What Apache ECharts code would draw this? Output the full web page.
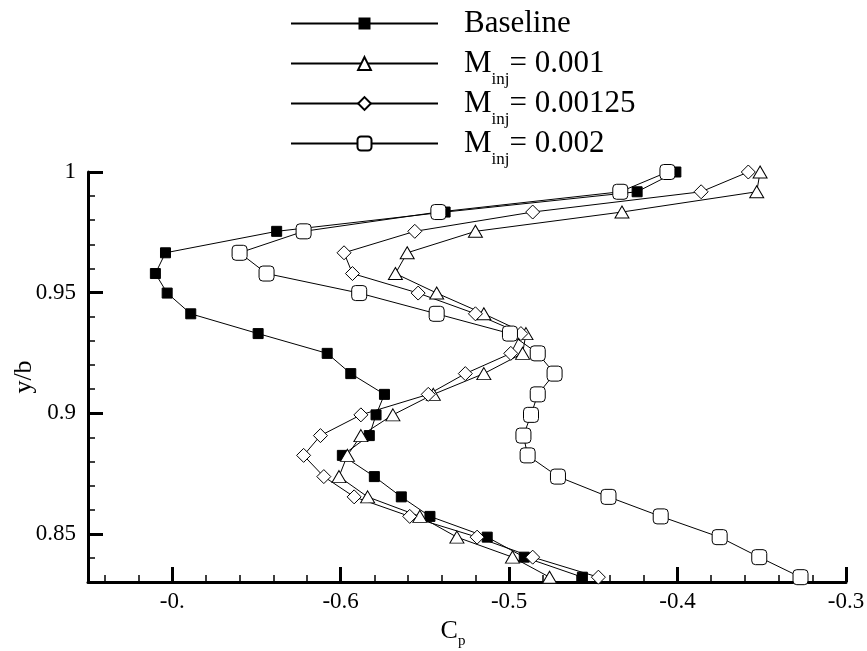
<!DOCTYPE html>
<html>
<head>
<meta charset="utf-8">
<script src="https://cdn.jsdelivr.net/npm/echarts@6/dist/echarts.min.js"></script>
<style>
  html, body { margin: 0; padding: 0; background: #fff; }
  #chart { width: 867px; height: 651px; }
</style>
</head>
<body>
<div id="chart"></div>
<script>
// Spanwise stations (y/b) shared by all four pressure-coefficient profiles
const yb = [1.000, 0.9918, 0.9834, 0.9754, 0.9665, 0.9579, 0.9498, 0.9412, 0.9330, 0.9248,
            0.9164, 0.9078, 0.8993, 0.8907, 0.8825, 0.8737, 0.8653, 0.8572, 0.8486, 0.8403, 0.8320];

// Cp at each station
const cpBaseline = [-0.401, -0.424, -0.538, -0.638, -0.704, -0.710, -0.703, -0.689, -0.649, -0.608,
                    -0.594, -0.574, -0.579, -0.583, -0.599, -0.580, -0.564, -0.547, -0.513, -0.491, -0.4565];
const cpM001     = [-0.351, -0.353, -0.433, -0.520, -0.5605, -0.5675, -0.543, -0.515, -0.490, -0.492,
                    -0.515, -0.545, -0.569, -0.588, -0.596, -0.601, -0.584, -0.553, -0.531, -0.498, -0.476];
const cpM00125   = [-0.358, -0.386, -0.486, -0.556, -0.598, -0.593, -0.554, -0.520, -0.493, -0.499,
                    -0.526, -0.548, -0.588, -0.612, -0.622, -0.610, -0.592, -0.559, -0.519, -0.486, -0.447];
const cpM002     = [-0.406, -0.434, -0.542, -0.622, -0.660, -0.644, -0.589, -0.543, -0.4995, -0.483,
                    -0.473, -0.483, -0.487, -0.4915, -0.489, -0.471, -0.441, -0.410, -0.375, -0.3515, -0.327];

const seriesNames = ['Baseline', 'Minj 0.001', 'Minj 0.00125', 'Minj 0.002'];
const injValues = [null, '0.001', '0.00125', '0.002'];

// Axis ticks and labels
const xMajor = [-0.7, -0.6, -0.5, -0.4, -0.3];
const xLabels = ['-0.', '-0.6', '-0.5', '-0.4', '-0.3'];
const xMinor = [-0.74, -0.72, -0.68, -0.66, -0.64, -0.62, -0.58, -0.56, -0.54, -0.52,
                -0.48, -0.46, -0.44, -0.42, -0.38, -0.36, -0.34, -0.32];
const yMajor = [0.85, 0.9, 0.95, 1.0];
const yLabels = ['0.85', '0.9', '0.95', '1'];
const yMinor = [0.84, 0.86, 0.87, 0.88, 0.89, 0.91, 0.92, 0.93, 0.94, 0.96, 0.97, 0.98, 0.99];

const FONT = 'Liberation Serif';
const X_MIN = -0.75, X_MAX = -0.3, Y_MIN = 0.83, Y_MAX = 1.0;

function profile(name, cp, symbol, size, fill) {
  return {
    type: 'line',
    name: name,
    data: cp.map((c, i) => [c, yb[i]]),
    symbol: symbol,
    symbolSize: size,
    showAllSymbol: true,
    clip: false,
    silent: true,
    lineStyle: { color: '#000', width: 1 },
    itemStyle: { color: fill, borderColor: '#000', borderWidth: 1 },
    emphasis: { disabled: true }
  };
}

const legendRich = {
  a: { fontFamily: FONT, fontSize: 31, lineHeight: 50, color: '#000', padding: [0, 0, 0, 21] },
  s: { fontFamily: FONT, fontSize: 17, lineHeight: 17, color: '#000', verticalAlign: 'bottom' },
  t: { fontFamily: FONT, fontSize: 31, lineHeight: 50, color: '#000' }
};
const rowCenters = [23, 63, 103, 143];
const iconHeights = [12.5, 16, 16, 17.5];

const chart = echarts.init(document.getElementById('chart'), null, { renderer: 'canvas' });

chart.setOption({
  animation: false,
  backgroundColor: '#fff',
  grid: { left: 88, right: 21, top: 172, bottom: 69, containLabel: false, outerBoundsMode: 'none' },
  legend: seriesNames.map((n, i) => ({
    data: [n],
    orient: 'vertical',
    left: 290,
    top: rowCenters[i] - 15,
    padding: 0,
    itemGap: 0,
    itemWidth: 147,
    itemHeight: iconHeights[i],
    selectedMode: false,
    formatter: () => injValues[i] === null
      ? '{a|Baseline}'
      : '{a|M}{s|inj}{t|= ' + injValues[i] + '}',
    textStyle: { rich: legendRich }
  })),
  xAxis: [
    {
      type: 'value', min: X_MIN, max: X_MAX, position: 'bottom',
      axisLine: { show: true, onZero: false, lineStyle: { color: '#000', width: 3 } },
      axisTick: { show: true, inside: true, length: 15, customValues: xMajor,
                  lineStyle: { color: '#000', width: 3 } },
      axisLabel: { show: true, customValues: xMajor, margin: 8,
                   formatter: v => xLabels[xMajor.findIndex(m => Math.abs(m - v) < 1e-9)],
                   fontFamily: FONT, fontSize: 23, color: '#000' },
      splitLine: { show: false },
      name: '{c|C}{s|p}',
      nameLocation: 'middle',
      nameGap: 4,
      nameTextStyle: {
        padding: [0, 28, 0, 0],
        rich: {
          c: { fontFamily: FONT, fontSize: 26, lineHeight: 36, color: '#000' },
          s: { fontFamily: FONT, fontSize: 15, lineHeight: 15, color: '#000', verticalAlign: 'bottom' }
        }
      }
    },
    {
      type: 'value', min: X_MIN, max: X_MAX, position: 'bottom',
      axisLine: { show: false },
      axisTick: { show: true, inside: true, length: 7, customValues: xMinor,
                  lineStyle: { color: '#000', width: 1.5 } },
      axisLabel: { show: false },
      splitLine: { show: false }
    }
  ],
  yAxis: [
    {
      type: 'value', min: Y_MIN, max: Y_MAX, position: 'left',
      axisLine: { show: true, onZero: false, lineStyle: { color: '#000', width: 3 } },
      axisTick: { show: true, inside: true, length: 15, customValues: yMajor,
                  lineStyle: { color: '#000', width: 3 } },
      axisLabel: { show: true, customValues: yMajor, margin: 12,
                   formatter: v => yLabels[yMajor.findIndex(m => Math.abs(m - v) < 1e-9)],
                   fontFamily: FONT, fontSize: 23, color: '#000' },
      splitLine: { show: false },
      name: 'y/b',
      nameLocation: 'middle',
      nameRotate: 90,
      nameGap: 51,
      nameMoveOverlap: false,
      nameTextStyle: { fontFamily: FONT, fontSize: 26, color: '#000' }
    },
    {
      type: 'value', min: Y_MIN, max: Y_MAX, position: 'left',
      axisLine: { show: false },
      axisTick: { show: true, inside: true, length: 7, customValues: yMinor,
                  lineStyle: { color: '#000', width: 1.5 } },
      axisLabel: { show: false },
      splitLine: { show: false }
    }
  ],
  series: [
    profile(seriesNames[0], cpBaseline, 'rect', [10, 10], '#000'),
    profile(seriesNames[1], cpM001, 'triangle', [14, 12], '#fff'),
    profile(seriesNames[2], cpM00125, 'diamond', [14, 14], '#fff'),
    profile(seriesNames[3], cpM002, 'roundRect', [15, 15], '#fff')
  ]
});
</script>
</body>
</html>
